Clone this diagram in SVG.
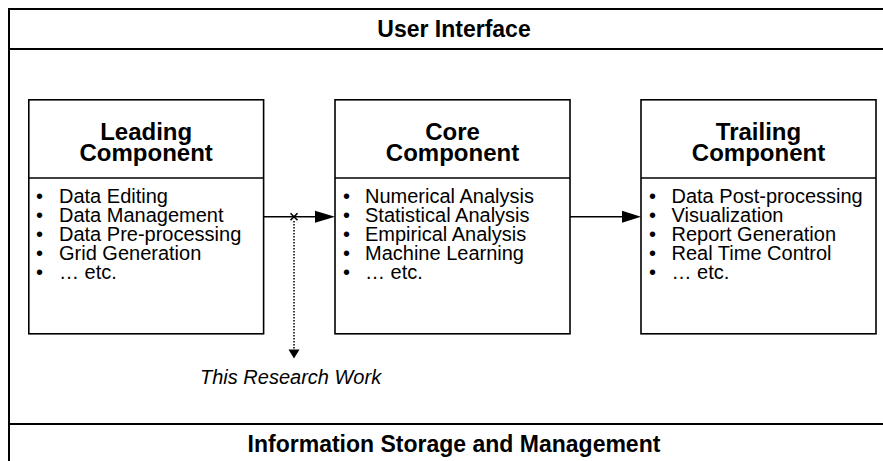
<svg xmlns="http://www.w3.org/2000/svg" width="883" height="461" viewBox="0 0 883 461">
  <style>
    .frame { fill: none; stroke: #000; stroke-width: 2; }
    .box { fill: #fff; stroke: #000; stroke-width: 1.6; }
    .title { font-family: "Liberation Sans", Arial, sans-serif; font-weight: bold; font-size: 23px; text-anchor: middle; fill: #000; }
    .head { font-family: "Liberation Sans", Arial, sans-serif; font-weight: bold; font-size: 24px; text-anchor: middle; fill: #000; }
    .item { font-family: "Liberation Sans", Arial, sans-serif; font-size: 20px; fill: #000; }
    .note { font-family: "Liberation Sans", Arial, sans-serif; font-style: italic; font-size: 20px; fill: #000; }
    .link { fill: none; stroke: #000; stroke-width: 1.6; }
    .dots { fill: none; stroke: #000; stroke-width: 1.5; stroke-dasharray: 1.5 1.5; }
  </style>
  <rect width="883" height="461" fill="#fff"/>

  <!-- outer frame: user interface band on top, storage band at the bottom -->
  <g id="frame">
    <path class="frame" d="M9 461 V9 H883"/>
    <path class="frame" d="M9 49 H883"/>
    <path class="frame" d="M9 424 H883"/>
    <text class="title" x="454" y="36.5">User Interface</text>
    <text class="title" x="454" y="452">Information Storage and Management</text>
  </g>

  <g id="leading">
    <rect class="box" x="28.8" y="99.8" width="234.8" height="234"/>
    <line class="box" x1="28.8" y1="178" x2="263.6" y2="178"/>
    <text class="head" x="146.2" y="140">Leading</text>
    <text class="head" x="146.2" y="161">Component</text>
    <g class="item">
      <text x="36" y="202.5">•</text><text x="59" y="202.5">Data Editing</text>
      <text x="36" y="221.7">•</text><text x="59" y="221.7">Data Management</text>
      <text x="36" y="240.9">•</text><text x="59" y="240.9">Data Pre-processing</text>
      <text x="36" y="260.1">•</text><text x="59" y="260.1">Grid Generation</text>
      <text x="36" y="279.3">•</text><text x="59" y="279.3">… etc.</text>
    </g>
  </g>

  <g id="core">
    <rect class="box" x="335" y="99.8" width="235" height="234"/>
    <line class="box" x1="335" y1="178" x2="570" y2="178"/>
    <text class="head" x="452.5" y="140">Core</text>
    <text class="head" x="452.5" y="161">Component</text>
    <g class="item">
      <text x="343" y="202.5">•</text><text x="365" y="202.5">Numerical Analysis</text>
      <text x="343" y="221.7">•</text><text x="365" y="221.7">Statistical Analysis</text>
      <text x="343" y="240.9">•</text><text x="365" y="240.9">Empirical Analysis</text>
      <text x="343" y="260.1">•</text><text x="365" y="260.1">Machine Learning</text>
      <text x="343" y="279.3">•</text><text x="365" y="279.3">… etc.</text>
    </g>
  </g>

  <g id="trailing">
    <rect class="box" x="641" y="99.8" width="235" height="234"/>
    <line class="box" x1="641" y1="178" x2="876" y2="178"/>
    <text class="head" x="758.5" y="140">Trailing</text>
    <text class="head" x="758.5" y="161">Component</text>
    <g class="item">
      <text x="649" y="202.5">•</text><text x="671.5" y="202.5">Data Post-processing</text>
      <text x="649" y="221.7">•</text><text x="671.5" y="221.7">Visualization</text>
      <text x="649" y="240.9">•</text><text x="671.5" y="240.9">Report Generation</text>
      <text x="649" y="260.1">•</text><text x="671.5" y="260.1">Real Time Control</text>
      <text x="649" y="279.3">•</text><text x="671.5" y="279.3">… etc.</text>
    </g>
  </g>

  <g id="connectors">
    <!-- leading to core -->
    <line class="link" x1="263.6" y1="216.7" x2="317" y2="216.7"/>
    <polygon points="315,210.7 335,216.7 315,222.7" fill="#000"/>
    <!-- core to trailing -->
    <line class="link" x1="570" y1="216.7" x2="624" y2="216.7"/>
    <polygon points="622,210.7 641,216.7 622,222.7" fill="#000"/>
    <!-- cross mark and dotted pointer to the research note -->
    <path class="link" d="M290.5 213.2 L297.5 220.2 M297.5 213.2 L290.5 220.2" stroke-width="1.8"/>
    <line class="dots" x1="294" y1="221" x2="294" y2="350"/>
    <polygon points="288.5,349.5 299.5,349.5 294,358.5" fill="#000"/>
  </g>

  <text id="note" class="note" x="200" y="384">This Research Work</text>
</svg>
